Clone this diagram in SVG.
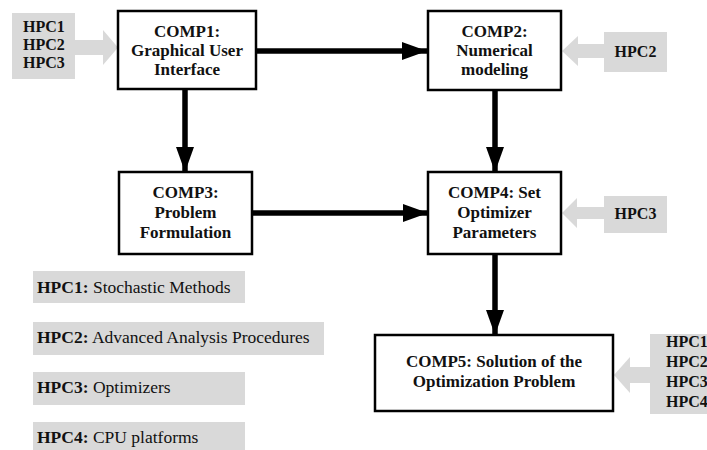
<svg xmlns="http://www.w3.org/2000/svg" width="707" height="450" viewBox="0 0 707 450">
<style>
.box{fill:#fff;stroke:#000;stroke-width:2.5}
.gbox{fill:#d9d9d9}
.garrow{fill:#d9d9d9}
.t{font-family:"Liberation Serif",serif;font-weight:bold;font-size:17px;fill:#111;text-anchor:middle}
.h{font-family:"Liberation Serif",serif;font-weight:bold;font-size:16px;fill:#111}
.l{font-family:"Liberation Serif",serif;font-size:17.5px;fill:#111}
.l tspan.b{font-weight:bold}
.conn{stroke:#000;stroke-width:5.5;fill:none}
</style>
<defs>
<marker id="ah" markerUnits="userSpaceOnUse" markerWidth="26" markerHeight="18" refX="25" refY="9" orient="auto">
<path d="M0,0 L25,9 L0,18 Z" fill="#000"/>
</marker>
</defs>
<g id="connectors">
<line class="conn" x1="256" y1="51" x2="427" y2="51" marker-end="url(#ah)"/>
<line class="conn" x1="185" y1="89" x2="185" y2="172" marker-end="url(#ah)"/>
<line class="conn" x1="495" y1="90" x2="495" y2="172" marker-end="url(#ah)"/>
<line class="conn" x1="252" y1="213" x2="428" y2="213" marker-end="url(#ah)"/>
<line class="conn" x1="495" y1="254" x2="495" y2="335" marker-end="url(#ah)"/>
<path class="garrow" d="M75,40 L103,40 L103,30 L118,47.5 L103,65 L103,55 L75,55 Z"/>
<path class="garrow" d="M604,44 L578,44 L578,36 L562,51 L578,66 L578,58 L604,58 Z"/>
<path class="garrow" d="M604,207 L577,207 L577,198 L562,213 L577,228 L577,219 L604,219 Z"/>
<path class="garrow" d="M650,367 L630,367 L630,357 L614,375 L630,393 L630,383 L650,383 Z"/>
</g>
<g id="hpc123">
<rect class="gbox" x="12" y="13" width="63" height="66"/>
<text class="h" x="23" y="32">HPC1</text>
<text class="h" x="23" y="50">HPC2</text>
<text class="h" x="23" y="68">HPC3</text>
</g>
<g id="comp1">
<rect class="box" x="118" y="11" width="138" height="78"/>
<text class="t" x="187" y="37">COMP1:</text>
<text class="t" x="187" y="56">Graphical User</text>
<text class="t" x="187" y="75">Interface</text>
</g>
<g id="comp2">
<rect class="box" x="428" y="11" width="133" height="79"/>
<text class="t" x="494.5" y="37">COMP2:</text>
<text class="t" x="494.5" y="56">Numerical</text>
<text class="t" x="494.5" y="75">modeling</text>
</g>
<g id="hpc2">
<rect class="gbox" x="604" y="32" width="63" height="40"/>
<text class="h" x="635.5" y="57" text-anchor="middle">HPC2</text>
</g>
<g id="comp3">
<rect class="box" x="119" y="172" width="133" height="82"/>
<text class="t" x="185.5" y="198">COMP3:</text>
<text class="t" x="185.5" y="218">Problem</text>
<text class="t" x="185.5" y="238">Formulation</text>
</g>
<g id="comp4">
<rect class="box" x="428" y="172" width="133" height="82"/>
<text class="t" x="494.5" y="198">COMP4: Set</text>
<text class="t" x="494.5" y="218">Optimizer</text>
<text class="t" x="494.5" y="238">Parameters</text>
</g>
<g id="hpc3">
<rect class="gbox" x="604" y="196" width="63" height="37"/>
<text class="h" x="635.5" y="219" text-anchor="middle">HPC3</text>
</g>
<g id="comp5">
<rect class="box" x="375" y="335" width="238" height="76"/>
<text class="t" x="494" y="367">COMP5: Solution of the</text>
<text class="t" x="494" y="387">Optimization Problem</text>
</g>
<g id="hpc1234">
<rect class="gbox" x="650" y="334" width="60" height="80"/>
<text class="h" x="666" y="347">HPC1</text>
<text class="h" x="666" y="367">HPC2</text>
<text class="h" x="666" y="387">HPC3</text>
<text class="h" x="666" y="407">HPC4</text>
</g>
<g id="legend">
<rect class="gbox" x="33" y="271" width="212" height="32"/>
<text class="l" x="37" y="293"><tspan class="b">HPC1:</tspan> Stochastic Methods</text>
<rect class="gbox" x="33" y="322" width="291" height="33"/>
<text class="l" x="37" y="343"><tspan class="b">HPC2:</tspan> Advanced Analysis Procedures</text>
<rect class="gbox" x="33" y="372" width="212" height="33"/>
<text class="l" x="37" y="393"><tspan class="b">HPC3:</tspan> Optimizers</text>
<rect class="gbox" x="33" y="422" width="212" height="28"/>
<text class="l" x="37" y="443"><tspan class="b">HPC4:</tspan> CPU platforms</text>
</g>
</svg>
